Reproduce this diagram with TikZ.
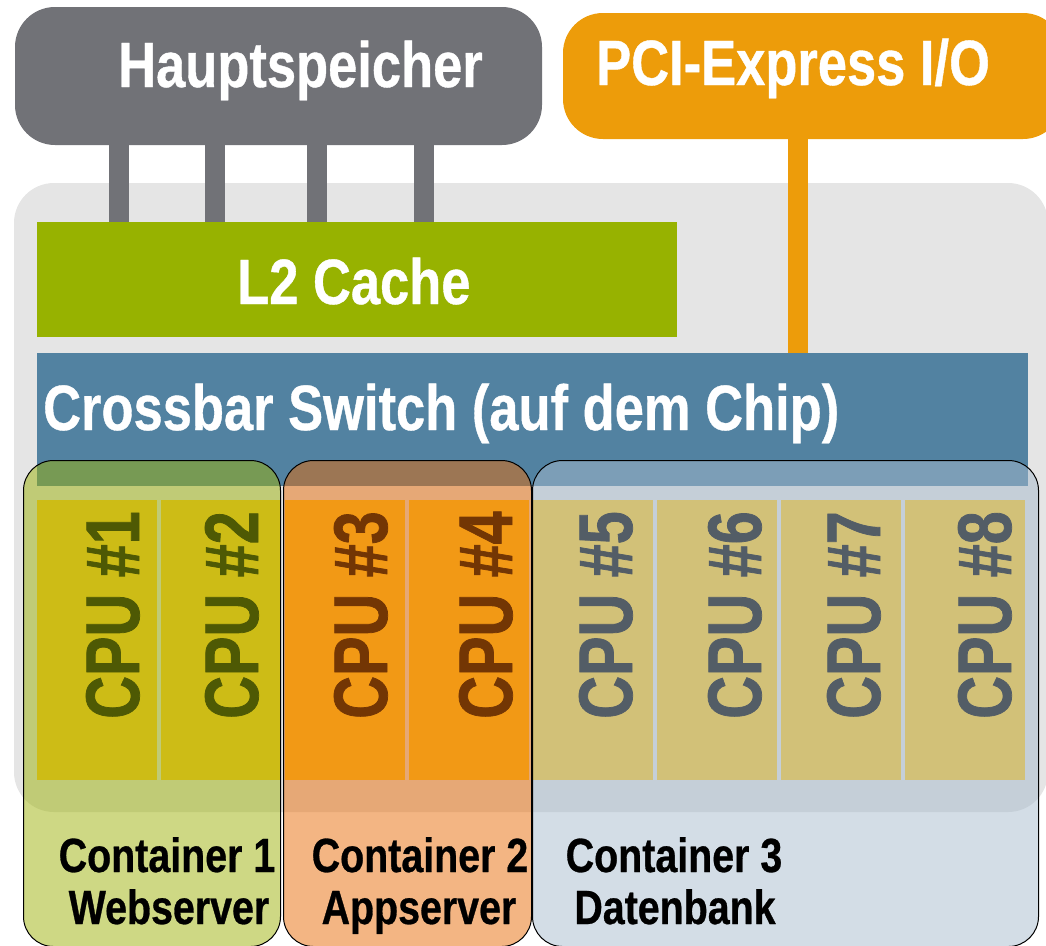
\documentclass[tikz,border=0pt]{standalone}
\usepackage{fontspec}
\setmainfont{Liberation Sans}[FakeStretch=0.82, FakeBold=0.6]
\newfontfamily\cpufont{Liberation Sans}[FakeStretch=0.78, FakeBold=1]
\definecolor{panelgray}{HTML}{E5E5E5}
\definecolor{hsgray}{HTML}{717277}
\definecolor{pciorange}{HTML}{ED9C0A}
\definecolor{lgreen}{HTML}{97B200}
\definecolor{xblue}{HTML}{5282A1}
\definecolor{cpuyellow}{HTML}{FFC824}
\definecolor{cgreen}{HTML}{9DB209}
\definecolor{corange}{HTML}{E76C08}
\definecolor{cblue}{HTML}{A7BBCD}
\tikzset{
  blockbox/.style={draw=none, inner sep=0pt, outer sep=0pt, anchor=north west},
  pillar/.style={draw=hsgray, line width=20pt},
  pciline/.style={draw=pciorange, line width=20pt},
  cpucell/.style={blockbox, fill=cpuyellow, minimum width=120pt, minimum height=280pt},
  cpulabel/.style={rotate=90, anchor=base west, inner sep=0pt, text=black, font=\cpufont\fontsize{76}{80}\selectfont\bfseries},
  whitelabel/.style={anchor=base west, inner sep=0pt, text=white, font=\fontsize{64}{70}\selectfont\bfseries},
  contbox/.style={anchor=north west, inner sep=0pt, rounded corners=30pt, draw=black, line width=1pt, fill opacity=0.5, minimum height=486pt},
  contlabel/.style={anchor=base, inner sep=0pt, text=black, font=\fontsize{48}{52}\selectfont\bfseries}
}
\begin{document}
\begin{tikzpicture}[x=1pt, y=-1pt]
\useasboundingbox (0,0) rectangle (1046,945);
\clip (0,0) rectangle (1046,945);
% chip panel
\node[blockbox, fill=panelgray, rounded corners=40pt, minimum width=1034pt, minimum height=629pt] (panel) at (14,183) {};
% main memory and PCI
\node[blockbox, fill=hsgray, rounded corners=40pt, minimum width=527pt, minimum height=138pt] (hs) at (15,7) {};
\node[whitelabel] (hslabel) at (118,87) {Hauptspeicher};
\node[blockbox, fill=pciorange, rounded corners=40pt, minimum width=500pt, minimum height=126pt] (pci) at (563,13) {};
\node[whitelabel] (pcilabel) at (596,85) {PCI-Express I/O};
% L2 and crossbar
\node[blockbox, fill=lgreen, minimum width=640pt, minimum height=115pt] (l2) at (37,222) {};
\node[whitelabel] (l2label) at (237,304) {L2 Cache};
\node[blockbox, fill=xblue, minimum width=991pt, minimum height=133pt] (xbar) at (37,353) {};
\node[whitelabel] (xbarlabel) at (43,430) {Crossbar Switch (auf dem Chip)};
% connectors
\draw[pillar] ([xshift=104pt]hs.south west) -- ([xshift=82pt]l2.north west);
\draw[pillar] ([xshift=200pt]hs.south west) -- ([xshift=178pt]l2.north west);
\draw[pillar] ([xshift=302pt]hs.south west) -- ([xshift=280pt]l2.north west);
\draw[pillar] ([xshift=409pt]hs.south west) -- ([xshift=387pt]l2.north west);
\draw[pciline] ([xshift=235pt]pci.south west) -- ([xshift=761pt]xbar.north west);
% CPUs
\node[cpucell] (cpu1) at (37,500) {};
\node[cpucell] (cpu2) at (161,500) {};
\node[cpucell] (cpu3) at (285,500) {};
\node[cpucell] (cpu4) at (409,500) {};
\node[cpucell] (cpu5) at (533,500) {};
\node[cpucell] (cpu6) at (657,500) {};
\node[cpucell] (cpu7) at (781,500) {};
\node[cpucell] (cpu8) at (905,500) {};
\node[cpulabel] (cl1) at (139,719) {CPU \#1};
\node[cpulabel] (cl2) at (258,719) {CPU \#2};
\node[cpulabel] (cl3) at (387,719) {CPU \#3};
\node[cpulabel] (cl4) at (512,719) {CPU \#4};
\node[cpulabel] (cl5) at (632,719) {CPU \#5};
\node[cpulabel] (cl6) at (761,719) {CPU \#6};
\node[cpulabel] (cl7) at (880,719) {CPU \#7};
\node[cpulabel] (cl8) at (1011,719) {CPU \#8};
% containers
\node[contbox, fill=cgreen, minimum width=257pt] (cont1) at (23,460) {};
\node[contbox, fill=corange, minimum width=248pt] (cont2) at (283,460) {};
\node[contbox, fill=cblue, minimum width=506pt] (cont3) at (532,460) {};
\node[contlabel] (c1a) at (167,872) {Container 1};
\node[contlabel] (c1b) at (169,924) {Webserver};
\node[contlabel] (c2a) at (420,872) {Container 2};
\node[contlabel] (c2b) at (419,924) {Appserver};
\node[contlabel] (c3a) at (674,872) {Container 3};
\node[contlabel] (c3b) at (675,924) {Datenbank};
\end{tikzpicture}
\end{document}
